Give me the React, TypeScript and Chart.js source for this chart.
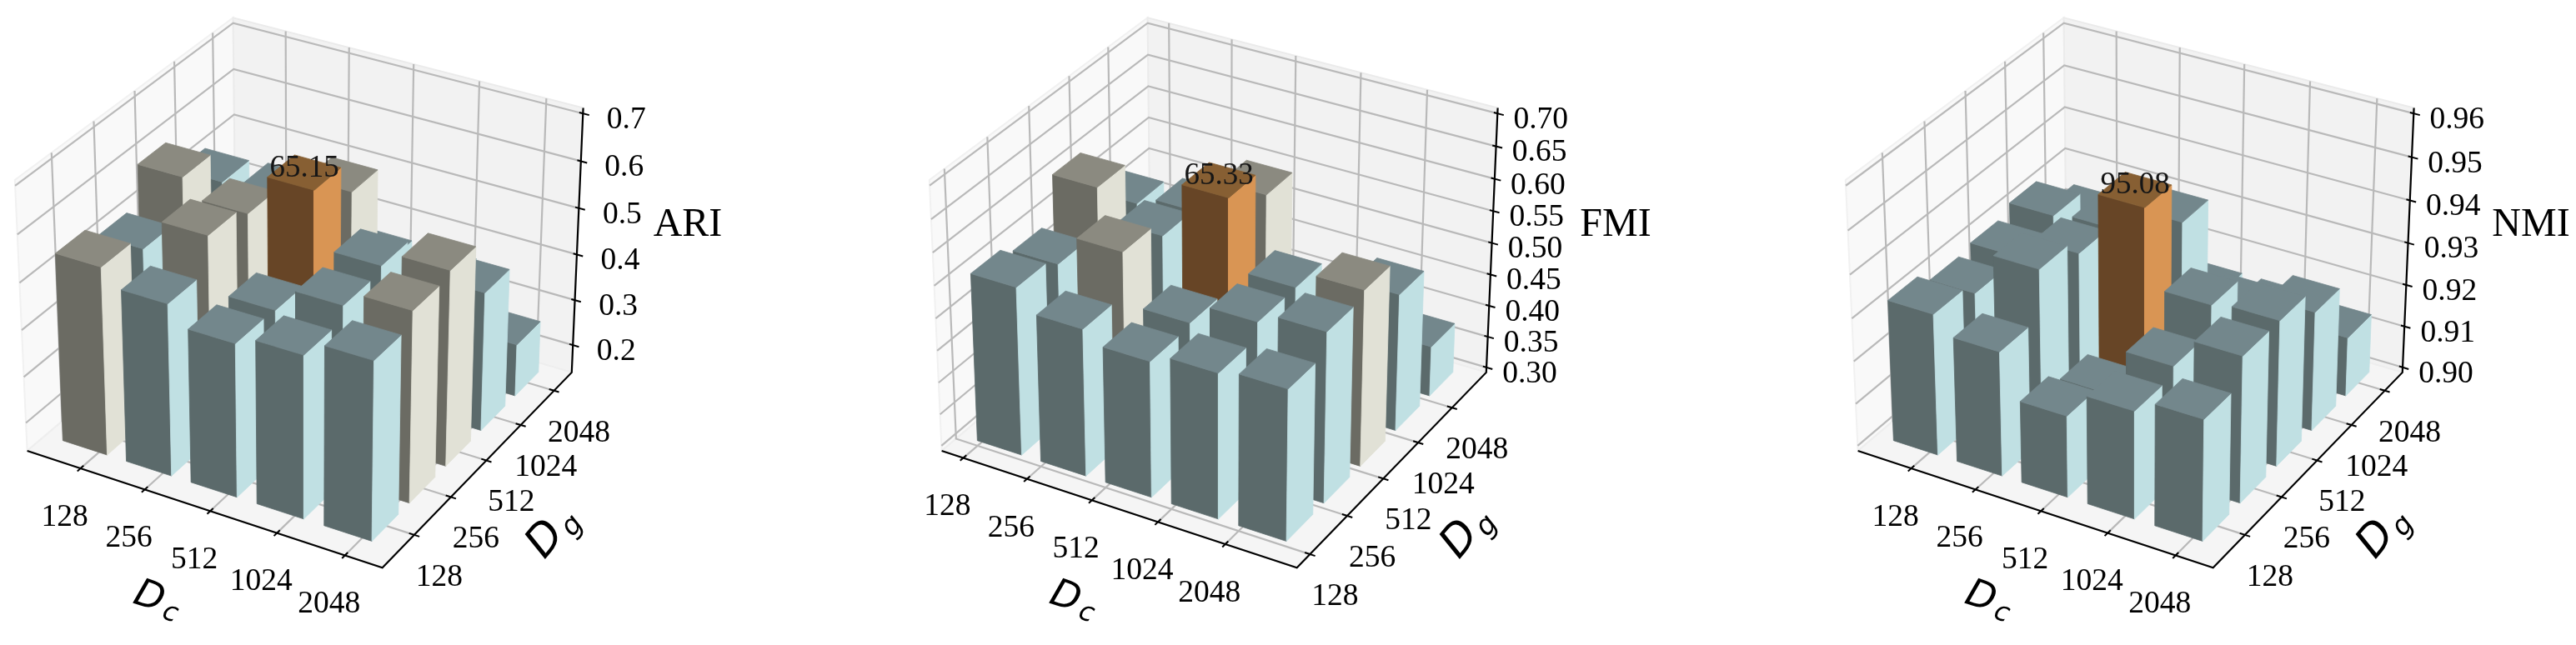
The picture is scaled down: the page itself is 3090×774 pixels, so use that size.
import React, { useEffect, useRef } from "react";
import { Chart, registerables } from "chart.js";

Chart.register(...registerables);

const dcLabels = ["128", "256", "512", "1024", "2048"];
const dgLabels = ["128", "256", "512", "1024", "2048"];

// values[j][i]: j = Dg index, i = Dc index
const ariValues = [
  [0.551, 0.516, 0.476, 0.495, 0.527],
  [0.519, 0.587, 0.472, 0.524, 0.555],
  [0.602, 0.564, 0.6515, 0.535, 0.566],
  [0.525, 0.531, 0.581, 0.42, 0.448],
  [0.38, 0.4, 0.36, 0.36, 0.263],
];
const fmiValues = [
  [0.561, 0.528, 0.51, 0.524, 0.532],
  [0.545, 0.593, 0.515, 0.547, 0.563],
  [0.613, 0.567, 0.6533, 0.547, 0.573],
  [0.539, 0.553, 0.609, 0.42, 0.514],
  [0.4, 0.42, 0.38, 0.38, 0.379],
];
const nmiValues = [
  [0.933, 0.929, 0.919, 0.925, 0.928],
  [0.93, 0.94, 0.916, 0.927, 0.934],
  [0.931, 0.936, 0.9508, 0.933, 0.934],
  [0.933, 0.934, 0.94, 0.924, 0.928],
  [0.925, 0.92, 0.915, 0.915, 0.914],
];

// [i, j] cells of the second colour group
const ariMuted = [[0, 0], [1, 1], [0, 2], [1, 2], [2, 3], [4, 1], [4, 2]];
const fmiMuted = [[1, 1], [0, 2], [2, 3], [4, 2]];
const nmiMuted: number[][] = [];

const ariTicks = [0.2, 0.3, 0.4, 0.5, 0.6, 0.7];
const fmiTicks = [0.3, 0.35, 0.4, 0.45, 0.5, 0.55, 0.6, 0.65, 0.7];
const nmiTicks = [0.9, 0.91, 0.92, 0.93, 0.94, 0.95, 0.96];

const SCALE_X = 4272;
const SCALE_Y = 4325;
const BOX = [1.1429, 1.1429, 0.8571];
const DIST = 10;
const EL = (30 * Math.PI) / 180;
const AZ = (-60 * Math.PI) / 180;
const W = [Math.cos(EL) * Math.cos(AZ), Math.cos(EL) * Math.sin(AZ), Math.sin(EL)];
const un = Math.hypot(W[1], W[0]);
const U = [-W[1] / un, W[0] / un, 0];
const VV = [
  W[1] * U[2] - W[2] * U[1],
  W[2] * U[0] - W[0] * U[2],
  W[0] * U[1] - W[1] * U[0],
];
const dot = (a: number[], b: number[]) => a[0] * b[0] + a[1] * b[1] + a[2] * b[2];
const project = (xn: number, yn: number, zn: number) => {
  const d = [(xn - 0.5) * BOX[0], (yn - 0.5) * BOX[1], (zn - 0.5) * BOX[2]];
  const depth = DIST - dot(W, d);
  return { x: dot(U, d) / depth, y: dot(VV, d) / depth };
};

const PANE_LO = -0.343;
const PANE_HI = 5.043;
const BAR_SIZE = 0.7;
const nx = (v: number) => (v - PANE_LO) / (PANE_HI - PANE_LO);

const BLUE = { top: "#73878c", front: "#5b6a6b", side: "#c0e0e3" };
const GREY = { top: "#8b8a80", front: "#6b6b63", side: "#e1e1d6" };
const ORANGE = { top: "#875f33", front: "#674526", side: "#d99554" };
const FONT = '"Liberation Serif", "Times New Roman", serif';

type PanelCfg = {
  left: number;
  width: number;
  tx: number;
  ty: number;
  values: number[][];
  muted: number[][];
  best: number[];
  bestLabel: string;
  ticks: number[];
  tickAt: number;
  decimals: number;
  zLo: number;
  zHi: number;
  base: number;
  title: string;
  titleX: number;
  dcAt: number[];
  dgAt: number[];
};

const panels: PanelCfg[] = [
  {
    left: 0, width: 1090, tx: 365, ty: 336, tickAt: 0.5,
    values: ariValues, muted: ariMuted, best: [2, 2], bestLabel: "65.15",
    ticks: ariTicks, decimals: 1, zLo: 0.1385, zHi: 0.7115, base: 0.15,
    title: "ARI", titleX: 825, dcAt: [158, 723], dgAt: [653, 672],
  },
  {
    left: 1090, width: 1090, tx: 372, ty: 336, tickAt: 0,
    values: fmiValues, muted: fmiMuted, best: [2, 2], bestLabel: "65.33",
    ticks: fmiTicks, decimals: 2, zLo: 0.2917, zHi: 0.7083, base: 0.3,
    title: "FMI", titleX: 848, dcAt: [167, 723], dgAt: [660, 672],
  },
  {
    left: 2180, width: 910, tx: 381, ty: 336, tickAt: 0.5,
    values: nmiValues, muted: nmiMuted, best: [2, 2], bestLabel: "95.08",
    ticks: nmiTicks, decimals: 2, zLo: 0.89875, zHi: 0.96125, base: 0.9,
    title: "NMI", titleX: 856, dcAt: [175, 723], dgAt: [669, 672],
  },
];

function buildDatasets(cfg: PanelCfg) {
  const ds: any[] = [];
  const nz = (v: number) => (v - cfg.zLo) / (cfg.zHi - cfg.zLo);
  const poly = (pts: number[][], color: string, edge?: string, bw = 0.8) =>
    ds.push({
      data: [...pts, pts[0]].map((p) => project(p[0], p[1], p[2])),
      showLine: true, pointRadius: 0, pointHoverRadius: 0, tension: 0,
      fill: "shape", backgroundColor: color, borderColor: edge ?? color,
      borderWidth: bw, clip: false,
    });
  const line = (pts: number[][], color: string, bw: number) =>
    ds.push({
      data: pts.map((p) => project(p[0], p[1], p[2])),
      showLine: true, pointRadius: 0, pointHoverRadius: 0, tension: 0,
      fill: false, borderColor: color, borderWidth: bw, clip: false,
    });

  // panes
  poly([[0, 0, 0], [0, 1, 0], [0, 1, 1], [0, 0, 1]], "#f9f9f9", "#f1f1f1", 2);
  poly([[0, 1, 0], [1, 1, 0], [1, 1, 1], [0, 1, 1]], "#f2f2f2", "#ebebeb", 2);
  poly([[0, 0, 0], [1, 0, 0], [1, 1, 0], [0, 1, 0]], "#f5f5f5", "#eeeeee", 2);

  // grid
  const GRID = "#b9b9b9";
  dcLabels.forEach((_, i) => {
    const t = nx(i + cfg.tickAt);
    line([[t, 0, 0], [t, 1, 0], [t, 1, 1]], GRID, 2.2);
  });
  dgLabels.forEach((_, j) => {
    const t = nx(j + cfg.tickAt);
    line([[1, t, 0], [0, t, 0], [0, t, 1]], GRID, 2.2);
  });
  cfg.ticks.forEach((v) => {
    const t = nz(v);
    line([[0, 0, t], [0, 1, t], [1, 1, t]], GRID, 2.2);
  });

  // axes and tick marks
  line([[0, 0, 0], [1, 0, 0], [1, 1, 0], [1, 1, 1]], "#000000", 2.2);
  dcLabels.forEach((_, i) => {
    const t = nx(i + cfg.tickAt);
    line([[t, -0.014, 0], [t, 0.014, 0]], "#000000", 2);
  });
  dgLabels.forEach((_, j) => {
    const t = nx(j + cfg.tickAt);
    line([[1.014, t, 0], [0.986, t, 0]], "#000000", 2);
  });
  cfg.ticks.forEach((v) => {
    const t = nz(v);
    line([[0.99, 1, t], [1.017, 1, t]], "#000000", 2);
  });

  // bars, far to near
  const zb = nz(cfg.base);
  for (let j = 4; j >= 0; j--) {
    for (let i = 0; i < 5; i++) {
      const zt = nz(cfg.values[j][i]);
      const x0 = nx(i), x1 = nx(i + BAR_SIZE);
      const y0 = nx(j), y1 = nx(j + BAR_SIZE);
      const isBest = cfg.best[0] === i && cfg.best[1] === j;
      const isMuted = cfg.muted.some((c) => c[0] === i && c[1] === j);
      const c = isBest ? ORANGE : isMuted ? GREY : BLUE;
      poly([[x0, y0, zb], [x1, y0, zb], [x1, y0, zt], [x0, y0, zt]], c.front);
      poly([[x1, y0, zb], [x1, y1, zb], [x1, y1, zt], [x1, y0, zt]], c.side);
      poly([[x0, y0, zt], [x1, y0, zt], [x1, y1, zt], [x0, y1, zt]], c.top);
    }
  }
  const n = ds.length;
  ds.forEach((d, k) => (d.order = n - k));
  return ds;
}

function labelPlugin(cfg: PanelCfg) {
  const nz = (v: number) => (v - cfg.zLo) / (cfg.zHi - cfg.zLo);
  return {
    id: "labels3d",
    afterDraw(chart: any) {
      const { ctx, scales } = chart;
      const px = (p: { x: number; y: number }) => ({
        x: scales.x.getPixelForValue(p.x),
        y: scales.y.getPixelForValue(p.y),
      });
      ctx.save();
      ctx.textAlign = "center";
      ctx.textBaseline = "middle";
      ctx.fillStyle = "#000000";
      ctx.font = `37.5px ${FONT}`;
      dcLabels.forEach((lab, i) => {
        const p = px(project(nx(i + cfg.tickAt), 0, 0));
        ctx.fillText(lab, p.x - 19, p.y + 59);
      });
      dgLabels.forEach((lab, j) => {
        const p = px(project(1, nx(j + cfg.tickAt), 0));
        ctx.fillText(lab, p.x + 30, p.y + 51);
      });
      cfg.ticks.forEach((v) => {
        const p = px(project(1, 1, nz(v)));
        ctx.fillText(v.toFixed(cfg.decimals), p.x + 52, p.y + 8);
      });
      // best-value label
      const [bi, bj] = cfg.best;
      const top = px(project(nx(bi + BAR_SIZE / 2), nx(bj + BAR_SIZE / 2), nz(cfg.values[bj][bi])));
      ctx.fillStyle = "#161616";
      ctx.font = `37px ${FONT}`;
      ctx.fillText(cfg.bestLabel, top.x, top.y - 5);
      // z title
      ctx.fillStyle = "#000000";
      ctx.font = `48px ${FONT}`;
      ctx.fillText(cfg.title, cfg.titleX, 270);
      // axis titles with subscripts
      const sub = (at: number[], deg: number, small: string, big: number, smallSize: number, along: number, perp: number) => {
        ctx.save();
        ctx.translate(at[0], at[1]);
        ctx.rotate((deg * Math.PI) / 180);
        ctx.textAlign = "left";
        ctx.textBaseline = "alphabetic";
        ctx.font = `oblique ${big}px "DejaVu Sans"`;
        ctx.fillText("D", 0, 0);
        ctx.font = `oblique ${smallSize}px "DejaVu Sans"`;
        ctx.fillText(small, along, perp);
        ctx.restore();
      };
      sub(cfg.dcAt, 19, "c", 46, 32, 39, 6);
      sub(cfg.dgAt, -50, "g", 52, 34, 42, 9);
      ctx.restore();
    },
  };
}

function Panel({ cfg }: { cfg: PanelCfg }) {
  const ref = useRef<HTMLCanvasElement | null>(null);
  useEffect(() => {
    if (!ref.current) return;
    const chart = new Chart(ref.current, {
      type: "scatter",
      data: { datasets: buildDatasets(cfg) },
      plugins: [labelPlugin(cfg)],
      options: {
        animation: false,
        responsive: false,
        devicePixelRatio: 1,
        layout: { padding: 0 },
        events: [],
        plugins: { legend: { display: false }, title: { display: false }, tooltip: { enabled: false } },
        scales: {
          x: { type: "linear", display: false, min: -cfg.tx / SCALE_X, max: (cfg.width - cfg.tx) / SCALE_X },
          y: { type: "linear", display: false, min: (cfg.ty - 774) / SCALE_Y, max: cfg.ty / SCALE_Y },
        },
      },
    } as any);
    return () => chart.destroy();
  }, [cfg]);
  return (
    <canvas
      ref={ref}
      width={cfg.width}
      height={774}
      style={{ position: "absolute", left: cfg.left, top: 0, width: cfg.width, height: 774, display: "block" }}
    />
  );
}

export default function App() {
  return (
    <div style={{ position: "absolute", left: 0, top: 0, width: 3090, height: 774, background: "#ffffff", overflow: "hidden" }}>
      {panels.map((p) => (
        <Panel key={p.title} cfg={p} />
      ))}
    </div>
  );
}
